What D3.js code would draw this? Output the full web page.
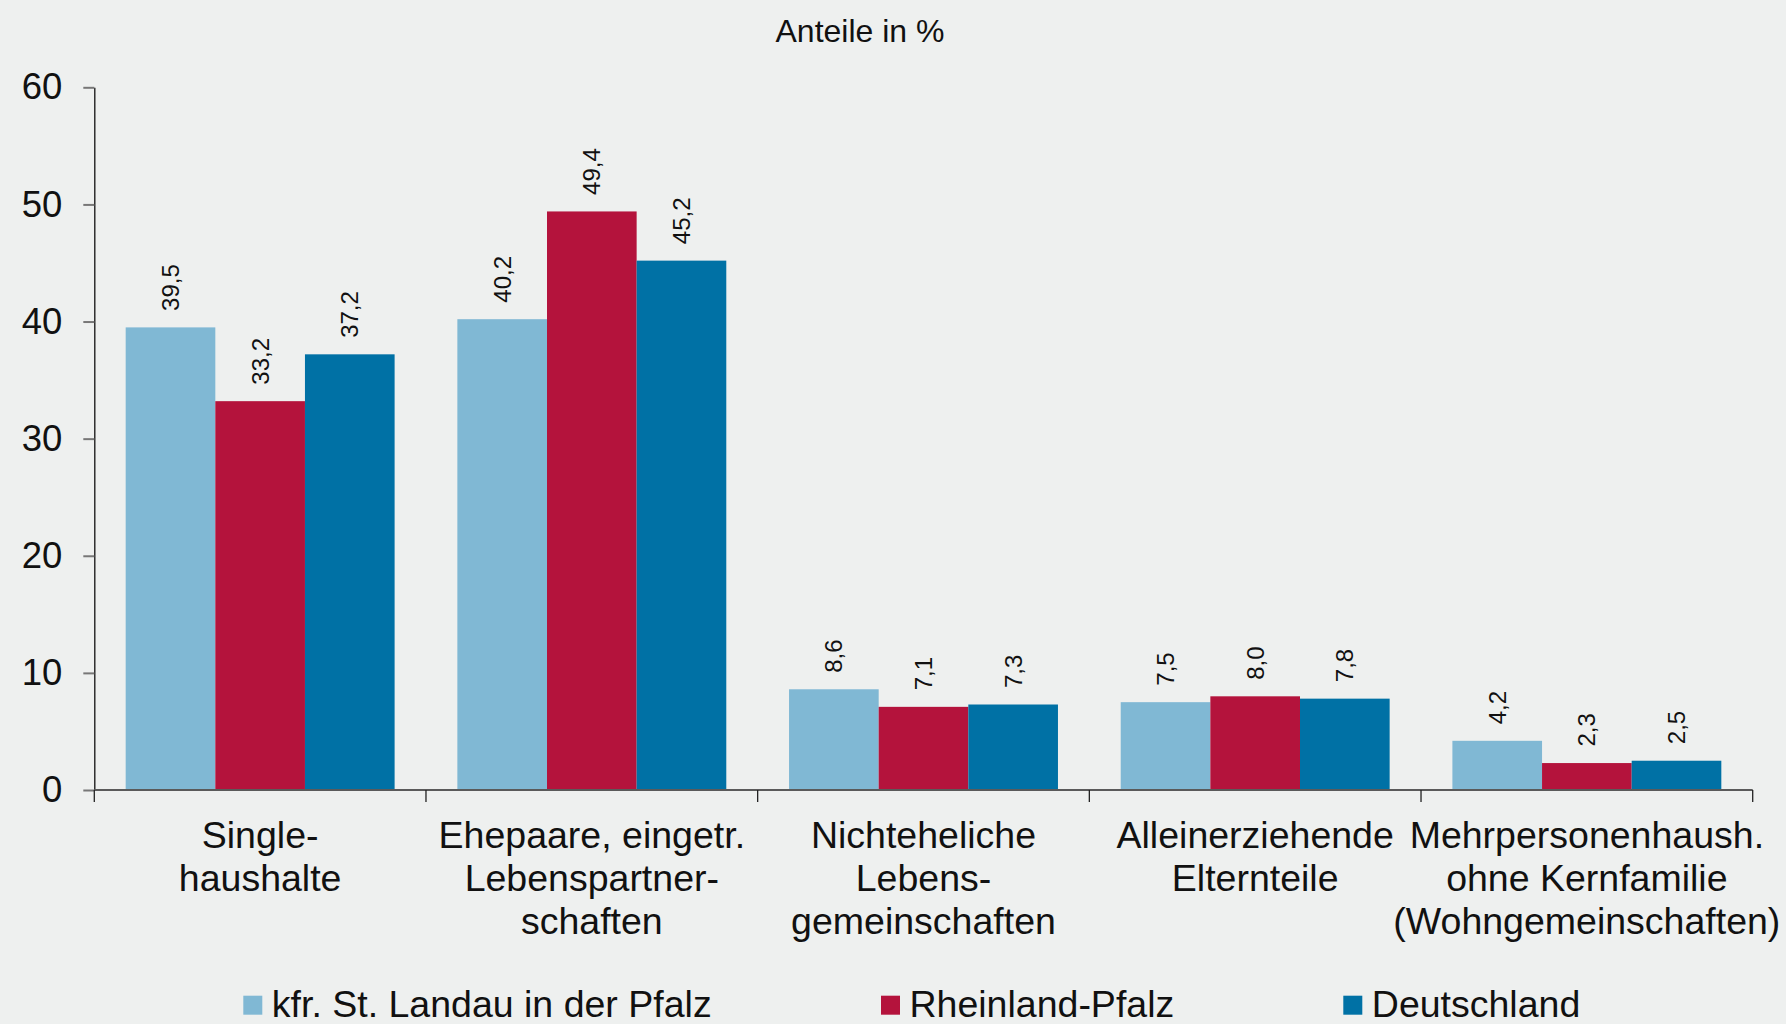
<!DOCTYPE html>
<html>
<head>
<meta charset="utf-8">
<script src="https://cdn.jsdelivr.net/npm/d3@7"></script>
<style>
  body { margin: 0; background: #eef0ef; }
  svg { display: block; font-family: "Liberation Sans", Arial, Helvetica, sans-serif; }
</style>
</head>
<body>
<div id="chart"></div>
<script>
// Data
const categories = [
  ["Single-", "haushalte"],
  ["Ehepaare, eingetr.", "Lebenspartner-", "schaften"],
  ["Nichteheliche", "Lebens-", "gemeinschaften"],
  ["Alleinerziehende", "Elternteile"],
  ["Mehrpersonenhaush.", "ohne Kernfamilie", "(Wohngemeinschaften)"]
];
const seriesNames = ["kfr. St. Landau in der Pfalz", "Rheinland-Pfalz", "Deutschland"];
const landauValues = [39.5, 40.2, 8.6, 7.5, 4.2];
const rlpValues = [33.2, 49.4, 7.1, 8.0, 2.3];
const deValues = [37.2, 45.2, 7.3, 7.8, 2.5];
const yTicks = [0, 10, 20, 30, 40, 50, 60];
const colors = ["#80b8d4", "#b4133c", "#0071a5"];
const title = "Anteile in %";

const width = 1786;
const height = 1024;

const svg = createSvg("#chart", width, height);
createRectangle(svg, width, height, "#eef0ef");

// Scales
const catKeys = categories.map(d => d.join(" "));
const x0 = d3.scaleBand().domain(catKeys).range([94.3, 1752.7]).padding(0);
const x1 = d3.scaleBand().domain(seriesNames).range([0, x0.bandwidth()])
  .paddingInner(0).paddingOuter(0.35);
const y = d3.scaleLinear().domain([0, 60]).range([790, 87.3]);

// Build rows for the grouped bars
const allSeries = [landauValues, rlpValues, deValues];
const rows = catKeys.map((key, i) => ({
  key: key,
  values: seriesNames.map((name, s) => ({ name: name, value: allSeries[s][i], color: colors[s] }))
}));

// Title
svg.append("text")
  .attr("x", 860)
  .attr("y", 42)
  .attr("text-anchor", "middle")
  .style("font-size", "32px")
  .style("fill", "#111")
  .text(title);

// Y axis
const yAxis = svg.append("g")
  .attr("transform", "translate(" + x0.range()[0] + ",0)")
  .call(d3.axisLeft(y).tickValues(yTicks).tickSize(11).tickSizeOuter(0).tickPadding(21).tickFormat(d3.format("d")));
yAxis.select(".domain").attr("stroke", "#111").attr("stroke-width", 1.3);
yAxis.selectAll(".tick line").attr("stroke", "#777").attr("stroke-width", 2);
yAxis.selectAll(".tick text")
  .style("font-size", "36.5px")
  .style("font-family", "\"Liberation Sans\", Arial, sans-serif")
  .style("fill", "#111");

// Bars
const groups = svg.selectAll(".group")
  .data(rows)
  .enter()
  .append("g")
  .attr("class", "group")
  .attr("transform", d => "translate(" + x0(d.key) + ",0)");

groups.selectAll("rect")
  .data(d => d.values)
  .enter()
  .append("rect")
  .attr("x", d => x1(d.name))
  .attr("y", d => y(d.value))
  .attr("width", x1.bandwidth())
  .attr("height", d => y(0) - y(d.value))
  .attr("fill", d => d.color);

// Value labels, rotated
const fmt = v => d3.format(".1f")(v).replace(".", ",");
groups.selectAll(".val")
  .data(d => d.values)
  .enter()
  .append("text")
  .attr("class", "val")
  .attr("transform", d => "translate(" + (x1(d.name) + x1.bandwidth() / 2) + "," + (y(d.value) - 16.5) + ") rotate(-90)")
  .attr("dy", "0.35em")
  .style("font-size", "24px")
  .style("fill", "#111")
  .text(d => fmt(d.value));

// X axis line and boundary ticks
svg.append("line")
  .attr("x1", x0.range()[0])
  .attr("x2", x0.range()[1])
  .attr("y1", y(0))
  .attr("y2", y(0))
  .attr("stroke", "#5a5a5a")
  .attr("stroke-width", 2);

const boundaries = catKeys.map(k => x0(k)).concat([x0.range()[1]]);
svg.selectAll(".xtick")
  .data(boundaries)
  .enter()
  .append("line")
  .attr("class", "xtick")
  .attr("x1", d => d)
  .attr("x2", d => d)
  .attr("y1", y(0))
  .attr("y2", y(0) + 12)
  .attr("stroke", "#222")
  .attr("stroke-width", 1.3);

// Category labels
const catLabels = svg.selectAll(".cat")
  .data(categories)
  .enter()
  .append("text")
  .attr("class", "cat")
  .attr("text-anchor", "middle")
  .style("font-size", "37.5px")
  .style("fill", "#111");

catLabels.selectAll("tspan")
  .data((d, i) => d.map(line => ({ line: line, key: catKeys[i] })))
  .enter()
  .append("tspan")
  .attr("x", d => x0(d.key) + x0.bandwidth() / 2)
  .attr("y", (d, j) => 848.3 + j * 42.7)
  .text(d => d.line);

// Legend
const legendX = [243.3, 881, 1343.3];
seriesNames.forEach(function (name, i) {
  svg.append("rect")
    .attr("x", legendX[i])
    .attr("y", 995.7)
    .attr("width", 19)
    .attr("height", 19)
    .attr("fill", colors[i]);
  svg.append("text")
    .attr("x", legendX[i] + 28.5)
    .attr("y", 1017)
    .style("font-size", "37.5px")
    .style("fill", "#111")
    .text(name);
});

function createSvg(selector, width, height) {
  return d3.select(selector).append("svg")
    .attr("width", width)
    .attr("height", height);
}

function createRectangle(svg, width, height, fill) {
  return svg.append("rect")
    .attr("width", width)
    .attr("height", height)
    .attr("fill", fill);
}
</script>
</body>
</html>
